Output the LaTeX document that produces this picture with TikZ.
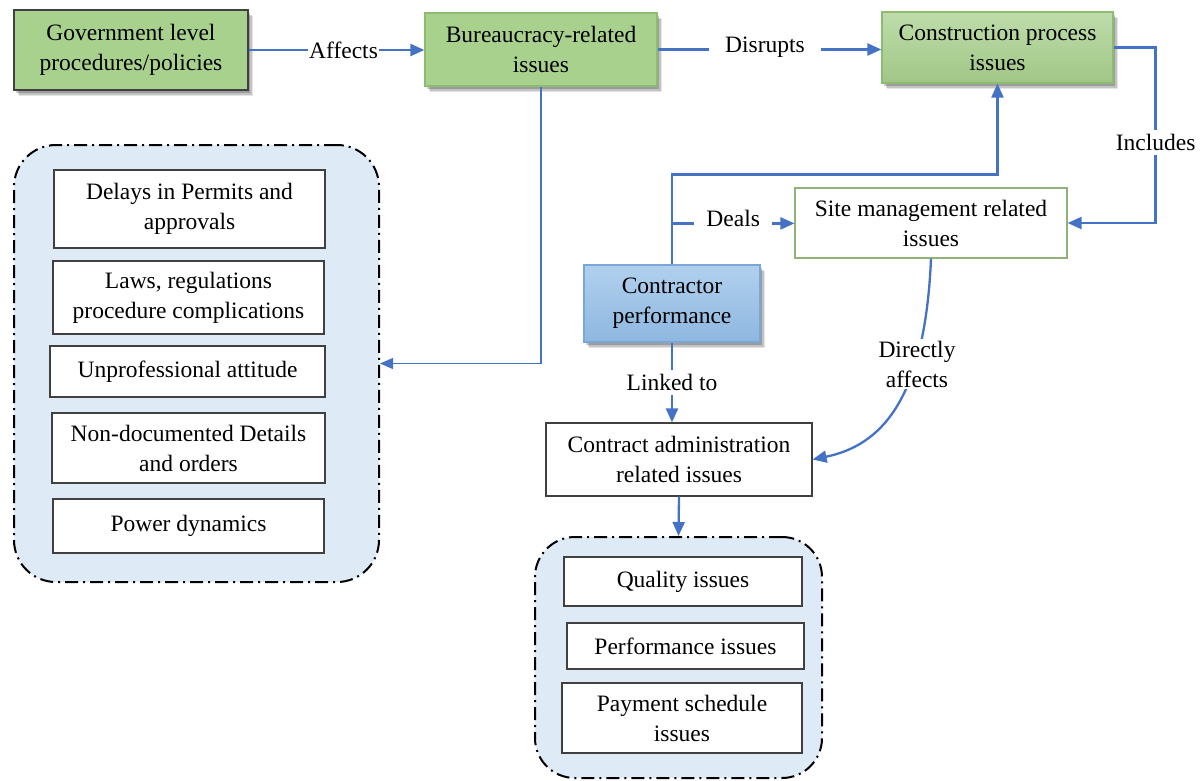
\documentclass[tikz,border=0pt]{standalone}
\usepackage{fontspec}
\setmainfont{Liberation Serif}
\usetikzlibrary{arrows.meta,shadows,calc}

\definecolor{linkblue}{HTML}{4472C4}
\definecolor{leafgreen}{HTML}{A9D18E}
\definecolor{leafedge}{HTML}{8DBB70}
\definecolor{panelblue}{HTML}{DEEBF7}
\definecolor{ctrtop}{HTML}{B1D0EE}
\definecolor{ctrbot}{HTML}{8EB7E0}
\definecolor{ctredge}{HTML}{7AA7D8}
\definecolor{boxedge}{HTML}{404040}

\tikzset{
  txt/.style={font=\fontsize{23.5}{30}\selectfont},
  basebox/.style={txt, align=center, inner sep=0pt, line width=1.2pt},
  shade/.style={
    drop shadow={shadow xshift=5pt, shadow yshift=-6pt, opacity=0.10, fill=black},
    drop shadow={shadow xshift=3.5pt, shadow yshift=-4.5pt, opacity=0.15, fill=black},
    drop shadow={shadow xshift=2pt, shadow yshift=-3pt, opacity=0.20, fill=black}},
  greenbox/.style={basebox, draw=leafedge, fill=leafgreen, shade},
  itembox/.style={basebox, draw=boxedge, fill=white},
  panel/.style={draw=black, line width=2pt, fill=panelblue,
    dash pattern=on 13pt off 5pt on 2pt off 5pt},
  flow/.style={draw=linkblue, line width=2.3pt, -{Triangle[length=14pt,width=12pt]}},
  thinflow/.style={draw=linkblue, line width=1.2pt, -{Triangle[length=13pt,width=11pt]}},
  lbl/.style={txt, fill=white, inner sep=3pt, align=center}
}

\begin{document}
\begin{tikzpicture}[x=1pt, y=-1pt]
\useasboundingbox (0,0) rectangle (1200,780);

% top row
\node[greenbox, draw=boxedge, minimum width=234pt, minimum height=80pt] (gov) at (131,50)
  {Government level\\procedures/policies};
\node[greenbox, minimum width=232pt, minimum height=73pt] (bur) at (541,49.5)
  {Bureaucracy-related\\issues};
\node[basebox, draw=leafedge, top color=leafgreen!75!white, bottom color=leafgreen!95!black, shade,
  minimum width=231pt, minimum height=71pt] (con) at (997.5,47.5)
  {Construction process\\issues};

% middle nodes
\node[basebox, draw=leafgreen!85!black, fill=white, minimum width=272pt, minimum height=70pt] (site) at (931,223)
  {Site management related\\issues};
\node[basebox, draw=ctredge, top color=ctrtop, bottom color=ctrbot, shade,
  minimum width=176pt, minimum height=77pt] (ctr) at (672,303.5)
  {Contractor\\performance};
\node[itembox, minimum width=266pt, minimum height=73pt] (admin) at (679,459.5)
  {Contract administration\\related issues};

% bureaucracy panel
\node[panel, rounded corners=42pt, minimum width=365pt, minimum height=437pt] (leftbox) at (196.5,363.5) {};
\node[itembox, minimum width=271pt, minimum height=78pt] (d1) at (189.5,209) {Delays in Permits and\\approvals};
\node[itembox, minimum width=271pt, minimum height=73pt] (d2) at (188.5,297.5) {Laws, regulations\\procedure complications};
\node[itembox, minimum width=275pt, minimum height=51pt] (d3) at (187.5,371.5) {Unprofessional attitude};
\node[itembox, minimum width=273pt, minimum height=70pt] (d4) at (188.5,448) {Non-documented Details\\and orders};
\node[itembox, minimum width=271pt, minimum height=54pt] (d5) at (188.5,526) {Power dynamics};

% contract panel
\node[panel, rounded corners=40pt, minimum width=287pt, minimum height=241pt] (botbox) at (678.5,657.5) {};
\node[itembox, minimum width=238pt, minimum height=49pt] (q1) at (683,581.5) {Quality issues};
\node[itembox, minimum width=237pt, minimum height=46pt] (q2) at (685.5,646) {Performance issues};
\node[itembox, minimum width=240pt, minimum height=70pt] (q3) at (682,718) {Payment schedule\\issues};

% connectors
\draw[flow] (gov.east) -- node[lbl, pos=0.54, inner xsep=1pt]{Affects} (gov.east -| bur.west);
\draw[flow] (bur.east) -- node[lbl, pos=0.48, inner xsep=16pt, inner ysep=8pt, yshift=2pt]{Disrupts} (bur.east -| con.west);
\draw[thinflow] (bur.south) |- (leftbox.east);

\coordinate (incA) at ($(con.east)+(42,0)$);
\draw[flow] (con.east) -- (incA) -- node[lbl, pos=0.54, inner ysep=4pt]{Includes} (incA |- site.east) -- (site.east);

\coordinate (ctrbend) at ($(ctr.north)+(0,-90)$);
\draw[flow] (ctr.north) -- (ctrbend) -| (con.south);

\coordinate (dealfork) at ($(ctr.north)+(0,-41)$);
\draw[flow] (dealfork) -- node[lbl, pos=0.5, inner xsep=12pt, inner ysep=6pt, yshift=5pt]{Deals} (dealfork -| site.west);

\draw[flow] (ctr.south) -- node[lbl, pos=0.5, inner ysep=4pt]{Linked to} (ctr.south |- admin.north);

\draw[flow] (site.south) .. controls +(-6,142) and +(68,-14) .. (admin.east);
\node[lbl, inner ysep=2pt] (directly) at (917,364) {Directly\\affects};

\draw[flow] (admin.south) -- (botbox.north);
\end{tikzpicture}
\end{document}
